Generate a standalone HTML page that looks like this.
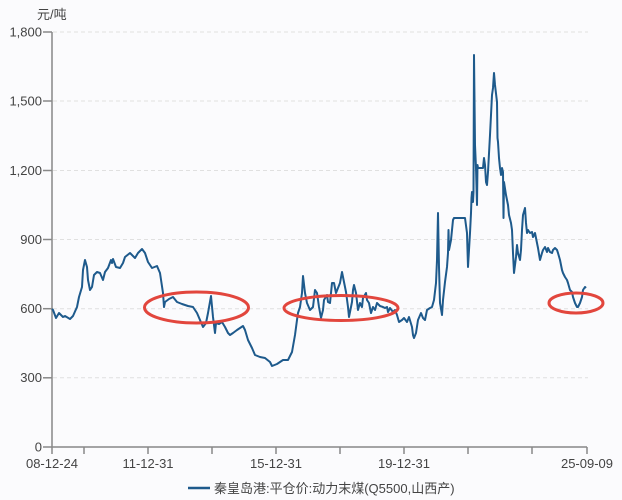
<!DOCTYPE html>
<html><head><meta charset="utf-8"><style>
html,body{margin:0;padding:0;background:#fbfbfd;}
svg{display:block;}
text{font-family:"Liberation Sans","Noto Sans CJK SC",sans-serif;fill:#444;}
</style></head><body>
<svg width="622" height="500" viewBox="0 0 622 500" xmlns="http://www.w3.org/2000/svg">
<rect width="622" height="500" fill="#fbfbfd"/>
<g stroke="#e0e0e0" stroke-width="1" stroke-dasharray="4 3">
<line x1="53" y1="32" x2="588" y2="32"/>
<line x1="53" y1="101" x2="588" y2="101"/>
<line x1="53" y1="170.5" x2="588" y2="170.5"/>
<line x1="53" y1="239.5" x2="588" y2="239.5"/>
<line x1="53" y1="308.7" x2="588" y2="308.7"/>
<line x1="53" y1="377.8" x2="588" y2="377.8"/>
</g>
<g stroke="#888" stroke-width="1.5" fill="none">
<line x1="52" y1="32" x2="52" y2="447"/>
<line x1="52" y1="447" x2="587" y2="447"/>
<line x1="43" y1="32" x2="52" y2="32"/>
<line x1="43" y1="101" x2="52" y2="101"/>
<line x1="43" y1="170.5" x2="52" y2="170.5"/>
<line x1="43" y1="239.5" x2="52" y2="239.5"/>
<line x1="43" y1="308.7" x2="52" y2="308.7"/>
<line x1="43" y1="377.8" x2="52" y2="377.8"/>
<line x1="43" y1="447" x2="52" y2="447"/>
<line x1="52" y1="447" x2="52" y2="454"/>
<line x1="84" y1="447" x2="84" y2="454"/>
<line x1="148" y1="447" x2="148" y2="454"/>
<line x1="212" y1="447" x2="212" y2="454"/>
<line x1="276" y1="447" x2="276" y2="454"/>
<line x1="340" y1="447" x2="340" y2="454"/>
<line x1="404" y1="447" x2="404" y2="454"/>
<line x1="468" y1="447" x2="468" y2="454"/>
<line x1="532" y1="447" x2="532" y2="454"/>
<line x1="587" y1="447" x2="587" y2="454"/>
</g>
<g font-size="13" text-anchor="end">
<text x="42" y="36.5">1,800</text>
<text x="42" y="105.5">1,500</text>
<text x="42" y="175">1,200</text>
<text x="42" y="244">900</text>
<text x="42" y="313">600</text>
<text x="42" y="382">300</text>
<text x="42" y="451.5">0</text>
</g>
<text x="37" y="19" font-size="13">元/吨</text>
<g font-size="13" text-anchor="middle">
<text x="52" y="468">08-12-24</text>
<text x="148" y="468">11-12-31</text>
<text x="276" y="468">15-12-31</text>
<text x="404" y="468">19-12-31</text>
<text x="587" y="468">25-09-09</text>
</g>
<polyline fill="none" stroke="#1e5a8c" stroke-width="2" stroke-linejoin="round" points="52,309 53,310 56,318 59,313 63,317 65,316 70,319 73,316 77,307 79,297 82,287 83,270 85,260 87,267 88,280 90,290 92,287 94,275 97,272 100,273 103,280 105,272 108,268 111,260 112,263 113,259 116,267 120,268 123,263 125,257 130,253 135,258 138,253 142,249 145,253 148,262 152,268 157,266 160,273 163,293 164,307 165,302 169,299 173,297 177,302 182,304 188,306 193,307 197,313 200,320 203,327 206,323 208,313 211,296 213,317 215,333 216,323 219,324 222,322 225,327 228,333 230,335 233,333 237,330 243,326 245,330 248,340 252,348 255,355 260,357 265,358 270,362 272,366 277,364 283,360 288,360 292,352 295,335 297,320 298,313 300,307 302,293 303,276 305,293 307,303 310,310 313,307 315,290 317,293 319,307 321,318 323,310 324,300 327,295 328,302 330,303 332,283 334,283 336,293 338,288 340,283 342,272 344,282 346,292 348,307 349,317 352,302 353,290 354,285 356,293 358,310 360,303 362,307 363,298 366,293 367,300 369,303 371,313 373,307 375,310 377,303 380,306 383,307 385,308 387,307 388,312 390,308 393,312 395,310 397,315 399,322 402,320 404,318 407,322 409,317 412,327 413,335 414,338 416,333 418,320 421,313 423,318 425,320 427,310 430,308 432,307 434,300 436,283 437,260 438,213 439,267 440,303 442,315 443,300 445,282 447,267 448,253 448.5,230 449,250 451,240 453,220 454,218 465,218 467,233 468,267 470,233 471,213 471.5,198 472,192 473,202 473.5,192 474,55 475,145 476,168 477,205 477.5,165 478,168 480,168 483,168 484,158 485,165 486,182 487,185 488,172 490,135 492,95 493,88 494,73 495,85 497,102 497.5,138 498,142 499,158 500,168 501,175 502,168 503,172 503.5,218 504,182 506,195 508,205 509,215 511,223 512,230 513,253 514,273 516,257 517,245 518,253 520,260 521,250 522,230 523,215 525,208 526,223 527,233 528,230 530,233 532,232 533,237 535,233 537,243 538,248 540,260 542,253 543,250 545,247 547,252 548,248 550,252 552,253 553,250 555,248 557,250 558,253 560,260 562,270 563,273 565,277 567,280 568,283 570,290 572,292 573,297 575,303 577,307 578,307 580,303 582,297 583,290 585,287 586,288"/>
<g fill="none" stroke="#e2463d" stroke-width="3">
<ellipse cx="196.5" cy="307.5" rx="52" ry="15.5"/>
<ellipse cx="341" cy="308" rx="57" ry="12.5"/>
<ellipse cx="576" cy="303" rx="27" ry="10"/>
</g>
<line x1="188" y1="488" x2="210" y2="488" stroke="#1e5a8c" stroke-width="2.5"/>
<text x="214" y="493" font-size="13">秦皇岛港:平仓价:动力末煤(Q5500,山西产)</text>
</svg>
</body></html>
